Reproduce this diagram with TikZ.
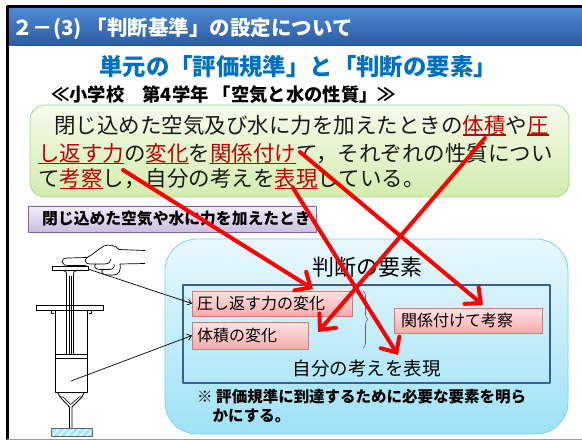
\documentclass[tikz,border=0pt]{standalone}
\usepackage{fontspec}
\setmainfont{Noto Sans CJK JP}
\usetikzlibrary{arrows.meta,decorations.pathreplacing}

\definecolor{titletop}{HTML}{4F8AD6}
\definecolor{titlebot}{HTML}{2B5A9E}
\definecolor{headblue}{HTML}{0070C0}
\definecolor{greentop}{HTML}{F6FBEC}
\definecolor{greenbot}{HTML}{D2EDAE}
\definecolor{greenline}{HTML}{A9D18E}
\definecolor{lavtop}{HTML}{F2EEF8}
\definecolor{lavbot}{HTML}{C9BEE0}
\definecolor{lavline}{HTML}{8064A2}
\definecolor{skytop}{HTML}{E8F8FD}
\definecolor{skybot}{HTML}{9EE2F6}
\definecolor{skyline}{HTML}{86CDE6}
\definecolor{frameblue}{HTML}{3A5F92}
\definecolor{pinktop}{HTML}{FEE4E4}
\definecolor{pinkbot}{HTML}{F6AAAA}
\definecolor{pinkline}{HTML}{D47878}
\definecolor{keyred}{HTML}{C00000}
\definecolor{glasscyan}{HTML}{9FE9F7}
\definecolor{bracegray}{HTML}{606060}

% red text with a red rule just under it
\newcommand\redul[1]{{\color{keyred}\setbox0\hbox{#1}\rlap{\rule[-0.12em]{\wd0}{1.3pt}}\box0}}

\tikzset{
  txt/.style={anchor=base west, inner sep=0pt},
  ctxt/.style={anchor=base, inner sep=0pt},
  panel/.style={inner sep=0pt, line width=0.8pt},
  pinkbox/.style={panel, draw=pinkline, top color=pinktop, bottom color=pinkbot, anchor=west},
  pinktxt/.style={txt, font=\fontsize{16}{18}\selectfont},
  redarrow/.style={draw=red, line width=4pt, line cap=round,
    -{Straight Barb[length=12pt,width=22pt,line cap=round]}},
  thinarrow/.style={draw=black, line width=0.7pt, -{Straight Barb[length=4pt,width=6pt]}},
  syr/.style={draw=black, line width=0.8pt},
}

\begin{document}
\begin{tikzpicture}[x=1pt,y=-1pt,line join=round]
\useasboundingbox (0,0) rectangle (582,441);
\fill[white] (0,0) rectangle (582,441);

% ---- title bar ----
\node[panel, minimum width=573pt, minimum height=38pt, top color=titletop, bottom color=titlebot] (bar) at (295.5,27) {};
\node[txt, text=white, font=\bfseries\fontsize{20.5}{23}\selectfont] (title) at (12,35.4) {２－(3) 「判断基準」の設定について};

% ---- slide frame ----
\draw[line width=2.5pt] (7.5,440) -- (7.5,6.5) -- (582,6.5);
\draw[gray!75, line width=1.5pt] (6.5,439.5) -- (582,439.5);

% ---- headings ----
\node[txt, text=headblue, font=\bfseries\fontsize{23.4}{26}\selectfont] (unit) at (99,75.4) {単元の「評価規準」と「判断の要素」};
\node[txt, font=\bfseries\fontsize{18.3}{21}\selectfont] (grade) at (51,101.5) {≪小学校　第4学年 「空気と水の性質」≫};

% ---- evaluation criterion ----
\node[panel, draw=greenline, rounded corners=15pt, top color=greentop, bottom color=greenbot, minimum width=539pt, minimum height=92pt] (crit) at (299.5,151) {};
\begin{scope}[every node/.append style={txt, text=black!90, font=\fontsize{21.5}{24}\selectfont}]
\node (l1) at (54,133.2) {閉じ込めた空気及び水に力を加えたときの\redul{体積}や\redul{圧}};
\node (l2) at (38,161.7) {\redul{し返す力}の\redul{変化}を\redul{関係付け}て，それぞれの性質につい};
\node (l3) at (38,186.7) {て\redul{考察}し，自分の考えを\redul{表現}している。};
\end{scope}

% ---- situation label ----
\node[panel, draw=lavline, top color=lavtop, bottom color=lavbot, minimum width=288pt, minimum height=26pt] (sit) at (172,219) {};
\node[txt, font=\bfseries\fontsize{15.8}{18}\selectfont] (sittxt) at (42,225) {閉じ込めた空気や水に力を加えたとき};

% ---- elements panel ----
\node[panel, draw=skyline, rounded corners=32pt, top color=skytop, bottom color=skybot, minimum width=403pt, minimum height=195pt] (elem) at (366.5,336.5) {};
\node[ctxt, font=\fontsize{22}{24}\selectfont] (elemtitle) at (367,275.4) {判断の要素};
\node[panel, draw=frameblue, line width=1.2pt, minimum width=367pt, minimum height=98pt] (inner) at (366.5,334) {};

\node[pinkbox, minimum width=160pt, minimum height=25pt] (press) at (192,303.5) {};
\node[pinktxt] (presstxt) at (197,309.3) {圧し返す力の変化};
\node[pinkbox, minimum width=116pt, minimum height=27pt] (vol) at (192,335.5) {};
\node[pinktxt] (voltxt) at (197,341.5) {体積の変化};
\node[pinkbox, minimum width=148pt, minimum height=25pt] (rel) at (394,320.5) {};
\node[pinktxt] (reltxt) at (401,326.5) {関係付けて考察};

\draw[bracegray, line width=0.6pt, decorate, decoration={brace, amplitude=5pt}] (363,291) -- (363,348);

\node[ctxt, font=\fontsize{18.5}{21}\selectfont] (expr) at (366.5,375.7) {自分の考えを表現};
\node[anchor=north west, inner sep=0pt, align=left, font=\bfseries\fontsize{15.5}{18.5}\selectfont] (note) at (197,389) {※ 評価規準に到達するために必要な要素を明ら\\　かにする。};

% ---- syringe ----
% hand
\draw[syr, line width=0.7pt] (62,262) .. controls (62,259) and (64,258) .. (68,258) -- (87,257.5)
  .. controls (93,255) and (98,249) .. (104,246) .. controls (109,244) and (115,245) .. (119,249.5) -- (145,250.5);
\draw[syr, line width=0.7pt] (62,262) .. controls (63,265) and (65,265.5) .. (70,265.5) -- (86,265.5);
\draw[syr, line width=0.7pt] (87,257.5) .. controls (84,260) and (85,264) .. (90,264) -- (104,264) .. controls (109,264) and (111,262) .. (111,259);
\draw[syr, line width=0.7pt] (96,264) .. controls (93,266) and (95,269.5) .. (100,269.5) -- (109,269.5) .. controls (113,269.5) and (115,267) .. (114,264);
\draw[syr, line width=0.7pt] (103,269.5) .. controls (100,272) and (103,275) .. (107,275) -- (113,275) .. controls (119,275) and (121,271) .. (120,264) -- (145,263.5);
% plunger
\draw[syr] (52,266) rectangle (88,270.5);
\draw[syr] (63,270.5) .. controls (66,271) .. (66.5,275) -- (66.5,354);
\draw[syr] (77,270.5) .. controls (74,271) .. (73.5,275) -- (73.5,354);
\draw[syr, line width=0.6pt] (69,276) -- (69,354) (71,276) -- (71,354);
% barrel
\draw[syr] (36,305) rectangle (103,310);
\draw[syr] (55,310) -- (55,392) -- (87,392) -- (87,310);
\draw[syr, line width=0.6pt] (51,310) -- (51,313.5) -- (53.5,313.5) (91,310) -- (91,313.5) -- (88.5,313.5);
\draw[syr] (55,354) -- (87,354) (55,358) -- (87,358);
% nozzle and needle
\draw[syr] (57.5,392) -- (60,397) -- (69.5,407) -- (69.5,428.5);
\draw[syr] (84.5,392) -- (82,397) -- (72,407) -- (72,428.5);
\draw[syr, line width=0.6pt] (60,397) -- (63,397) -- (70.7,404.5) -- (79,397) -- (82,397);
% glass plate
\fill[glasscyan] (51.5,428.5) rectangle (92.5,436.5);
\begin{scope}
\clip (51.5,428.5) rectangle (92.5,436.5);
\foreach \i in {44,51,...,100} \draw[white, line width=1.4pt] (\i,437) -- ++(9,-9);
\end{scope}
\draw[bracegray, line width=0.8pt] (51.5,428.5) rectangle (92.5,436.5);

% ---- pointers from the syringe ----
\coordinate (platetip) at (88,269);
\coordinate (aircell) at (71,381);
\draw[thinarrow] (platetip) -- (press.west);
\draw[thinarrow] (aircell) -- (vol.west);

% ---- links from the criterion words to the elements ----
\coordinate (s-press) at (123,170);
\coordinate (e-press) at (313,289);
\coordinate (s-vol) at (485,138);
\coordinate (e-vol) at (318,332);
\coordinate (s-rel) at (300,152);
\coordinate (e-rel) at (483,305);
\coordinate (s-exp) at (293,188);
\coordinate (e-exp) at (398,355);
\draw[redarrow] (s-press) -- (e-press);
\draw[redarrow] (s-vol) -- (e-vol);
\draw[redarrow] (s-rel) -- (e-rel);
\draw[redarrow] (s-exp) -- (e-exp);
\end{tikzpicture}
\end{document}
